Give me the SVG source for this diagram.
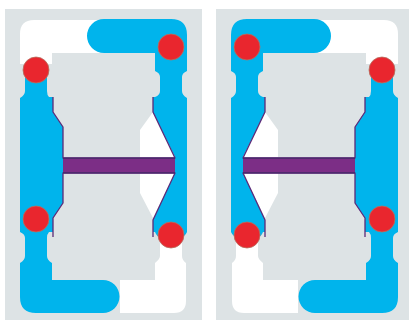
<svg xmlns="http://www.w3.org/2000/svg" width="409" height="320" viewBox="0 0 409 320">
<style>
.bg{fill:#dde3e5}
.w{fill:#fff}
.b{fill:#00b4ec}
.l{fill:none;stroke:#5b2a78;stroke-width:1.3;stroke-linejoin:round}
.r{fill:#e9262e;stroke:#b5705f;stroke-width:.8}
.p{fill:#7b2d86}
.d{fill:#4f2a6e}
.soft{filter:url(#soft)}
</style>
<defs>
<filter id="soft" x="-5%" y="-5%" width="110%" height="110%"><feGaussianBlur stdDeviation="0.45"/></filter>
<g id="panel">
<rect class="bg" x="5" y="9" width="197" height="311"/>
<g class="soft">
<path class="w" d="M20 60V34Q20 20 34 20H120V53H52V64H20Z"/>
<path class="w" d="M155 237H160V256Q160 259 155 263V280H120V313H174Q186 313 186 301V263Q182 260 182 256V237Z"/>
<path class="w" d="M153 112L175 157H140V130ZM140 173H175L153 218L140 193Z"/>
<path class="b" d="M104 19H171Q187 19 187 35V71Q182 73 182 77V91Q182 95 187 98V232Q185 237 180 237H160Q157 237 155 232H153V220L175 173V157L153 112V97H155Q160 95 160 91V77Q160 73 155 71V53H104A17 17 0 0 1 104 19Z"/>
<path class="b" d="M25 70H47V91Q47 95 49 97H53V112L63 127V203L53 218V232H49Q47 234 47 238V256Q47 260 52 263V280H103A16.500 16.500 0 0 1 103 313H36Q20 313 20 297V263Q25 260 25 256V238Q25 234 20 232V98Q25 95 25 91Z"/>
<path class="l" d="M53 97V112L63 127V158H175L153 112V97"/>
<path class="l" d="M53 237V218L63 203V173H175L153 220V237"/>
<rect class="p" x="63" y="158" width="112" height="15"/>
<rect class="d" x="63" y="157.500" width="112" height="1.500"/>
<rect class="d" x="63" y="172" width="112" height="1.500"/>
<circle class="r" cx="36" cy="70" r="13"/>
<circle class="r" cx="171" cy="47" r="13"/>
<circle class="r" cx="36" cy="219" r="13"/>
<circle class="r" cx="171" cy="235" r="13"/>
</g>
</g>
</defs>
<rect width="409" height="320" fill="#fff"/>
<g id="left-panel"><use href="#panel"/></g>
<g id="right-panel"><use href="#panel" transform="translate(418 0) scale(-1 1)"/></g>
</svg>
